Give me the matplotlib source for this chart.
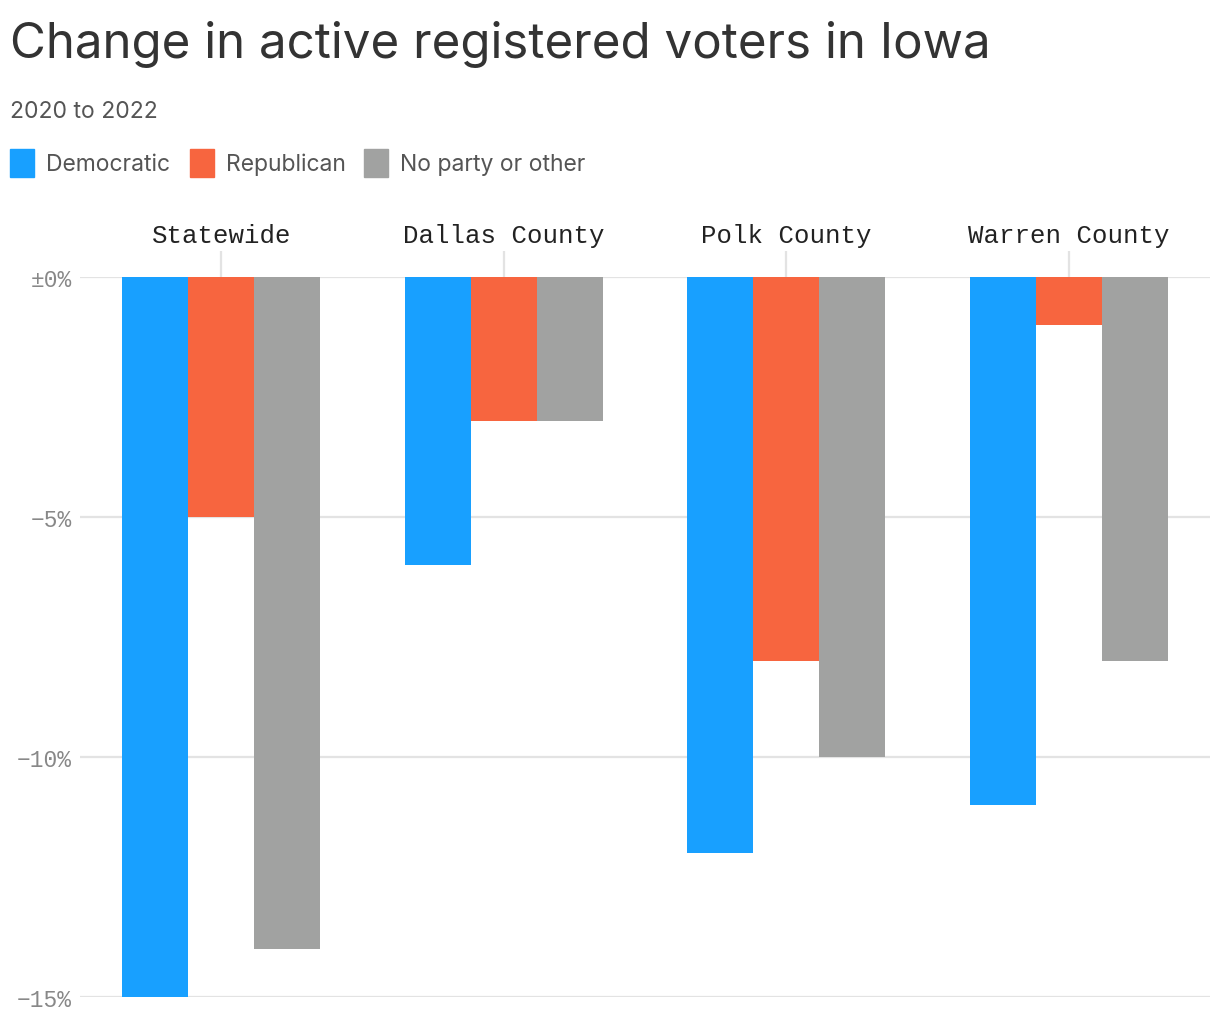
import matplotlib
matplotlib.use("Agg")
import matplotlib.pyplot as plt
import numpy as np
from matplotlib.patches import Rectangle

categories = ["Statewide", "Dallas County", "Polk County", "Warren County"]
series_names = ["Democratic", "Republican", "No party or other"]
democratic = [-15, -6, -12, -11]
republican = [-5, -3, -8, -1]
other = [-14, -3, -10, -8]
y_ticks = [0, -5, -10, -15]
y_tick_labels = ["±0%", "−5%", "−10%", "−15%"]

colors = ["#18A0FF", "#F7653F", "#A1A2A1"]
W, H = 1220, 1020
fig = plt.figure(figsize=(W / 100, H / 100), dpi=100)
fig.patch.set_facecolor("white")

ax = fig.add_axes([80 / W, (H - 998) / H, 1130 / W, 720 / H])
x = np.arange(len(categories))
bw = 0.2336
for i, (vals, c) in enumerate(zip([democratic, republican, other], colors)):
    ax.bar(x + (i - 1) * bw, vals, width=bw, color=c, zorder=3, linewidth=0)

ax.set_xlim(-0.5, len(categories) - 0.5)
ax.set_ylim(-15, 0)
ax.set_yticks(y_ticks)
ax.set_yticklabels(y_tick_labels, family="Liberation Mono", fontsize=16.5, color="#888888")
ax.tick_params(axis="y", length=0, pad=6)
ax.grid(axis="y", color="#e3e3e3", linewidth=1.6, zorder=0)
for s in ax.spines.values():
    s.set_visible(False)

ax.set_xticks(x)
ax.xaxis.tick_top()
ax.set_xticklabels(categories, family="Liberation Mono", fontsize=18.5, color="#222222")
ax.tick_params(axis="x", length=18.7, width=1.6, color="#e3e3e3", pad=3)

fig.text(10 / W, 1 - 45 / H, "Change in active registered voters in Iowa", family="Inter",
         fontsize=35.5, color="#333333", va="center", ha="left")
fig.text(10 / W, 1 - 112 / H, "2020 to 2022", family="Inter", fontsize=16.5,
         color="#555555", va="center", ha="left")

lx = [10, 190, 364]
for xx, name, c in zip(lx, series_names, colors):
    fig.patches.append(Rectangle((xx / W, 1 - 178 / H), 24 / W, 28 / H, transform=fig.transFigure,
                                 color=c, figure=fig))
    fig.text((xx + 36) / W, 1 - 165 / H, name, family="Inter", fontsize=16.5,
             color="#555555", va="center", ha="left")

fig.savefig("out.png", dpi=100, facecolor="white")
